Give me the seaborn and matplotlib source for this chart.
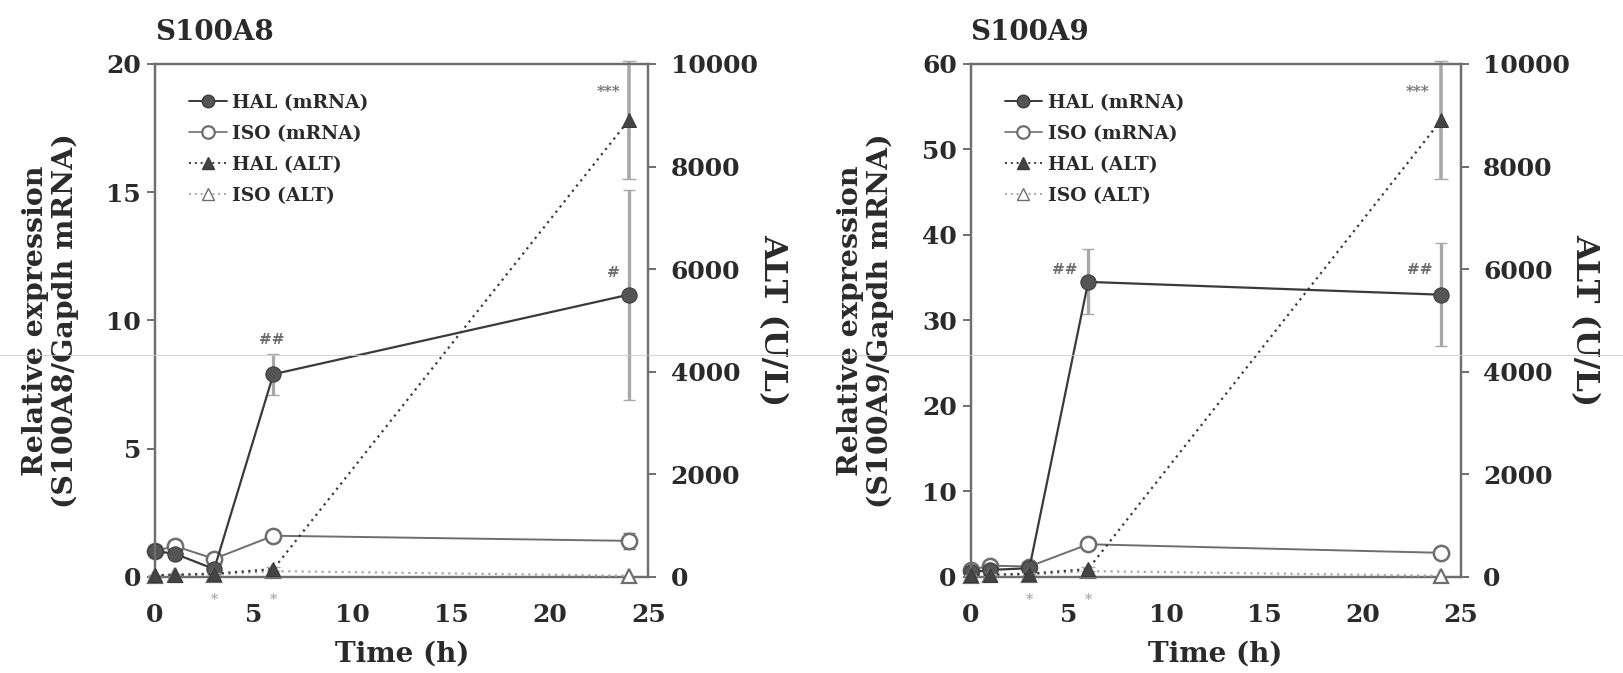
import matplotlib

matplotlib.use("Agg")

import matplotlib.pyplot as plt
import seaborn as sns
from matplotlib.lines import Line2D

# sampling times (h)
TIME_H = [0, 1, 3, 6, 24]

# S100A8 relative expression (mean, error)
A8_HAL_MRNA = [1.0, 0.9, 0.3, 7.9, 11.0]
A8_HAL_MRNA_ERR = [0.1, 0.2, 0.1, 0.8, 4.1]
A8_ISO_MRNA = [1.0, 1.2, 0.7, 1.6, 1.4]
A8_ISO_MRNA_ERR = [0.1, 0.2, 0.1, 0.2, 0.3]

# S100A9 relative expression (mean, error)
A9_HAL_MRNA = [0.5, 0.8, 1.0, 34.5, 33.0]
A9_HAL_MRNA_ERR = [0.3, 0.3, 0.3, 3.8, 6.0]
A9_ISO_MRNA = [0.8, 1.3, 1.2, 3.8, 2.8]
A9_ISO_MRNA_ERR = [0.2, 0.2, 0.2, 0.3, 0.3]

# serum ALT (U/L), same animals in both panels
HAL_ALT = [30, 40, 60, 150, 8900]
HAL_ALT_ERR = [10, 10, 20, 40, 1150]
ISO_ALT = [20, 30, 40, 110, 20]
ISO_ALT_ERR = [5, 5, 10, 30, 5]

X_TICKS = [0, 5, 10, 15, 20, 25]
ALT_TICKS = [0, 2000, 4000, 6000, 8000, 10000]

FONT = "DejaVu Serif"
INK = "#2a2a2a"
DARK = "#3a3a3a"
MID = "#6e6e6e"
LIGHT = "#a8a8a8"


def draw_panel(ax, title, gene, hal, hal_err, iso, iso_err, ymax, ystep, marks):
    ax2 = ax.twinx()

    ax.errorbar(TIME_H, hal, yerr=hal_err, fmt="none", ecolor=LIGHT, elinewidth=2.4,
                capsize=4, clip_on=False, zorder=2)
    ax.errorbar(TIME_H, iso, yerr=iso_err, fmt="none", ecolor=MID, elinewidth=1.2,
                capsize=4, clip_on=False, zorder=2)
    ax2.errorbar(TIME_H, HAL_ALT, yerr=HAL_ALT_ERR, fmt="none", ecolor=LIGHT,
                 elinewidth=2.6, capsize=5, clip_on=False, zorder=2)

    sns.lineplot(x=TIME_H, y=hal, ax=ax, color=DARK, linewidth=1.6, marker="o",
                 markersize=11, markerfacecolor="#555555", markeredgecolor=DARK,
                 clip_on=False, zorder=4)
    sns.lineplot(x=TIME_H, y=iso, ax=ax, color=MID, linewidth=1.4, marker="o",
                 markersize=11, markerfacecolor="white", markeredgecolor=MID,
                 markeredgewidth=1.8, clip_on=False, zorder=3)
    sns.lineplot(x=TIME_H, y=HAL_ALT, ax=ax2, color=DARK, linewidth=1.6,
                 linestyle=(0, (1, 2)), marker="^", markersize=10,
                 markerfacecolor="#444444", markeredgecolor=DARK,
                 clip_on=False, zorder=4)
    sns.lineplot(x=TIME_H, y=ISO_ALT, ax=ax2, color=LIGHT, linewidth=1.6,
                 linestyle=(0, (1, 2)), marker="^", markersize=10,
                 markerfacecolor="white", markeredgecolor=MID,
                 markeredgewidth=1.6, clip_on=False, zorder=3)

    ax.set_xlim(0, 25)
    ax.set_ylim(0, ymax)
    ax2.set_ylim(0, 10000)
    ax.set_xticks(X_TICKS)
    ax.set_yticks(range(0, ymax + 1, ystep))
    ax2.set_yticks(ALT_TICKS)

    bold = dict(family=FONT, weight="bold")
    for a in (ax, ax2):
        for side in a.spines.values():
            side.set_color(MID)
            side.set_linewidth(1.6)
        a.grid(False)
    ax.tick_params(axis="y", direction="out", length=6, width=1.4, color=MID,
                   labelsize=18, pad=4)
    ax.tick_params(axis="x", direction="in", length=6, width=1.2, color=MID,
                   labelsize=18, pad=19)
    ax2.tick_params(axis="y", direction="out", length=6, width=1.4, color=MID,
                    labelsize=18, pad=10)
    for lab in ax.get_xticklabels() + ax.get_yticklabels() + ax2.get_yticklabels():
        lab.set_fontfamily(FONT)
        lab.set_fontweight("bold")
        lab.set_color(INK)

    ax.set_xlabel("Time (h)", fontsize=20, labelpad=10, color=INK, **bold)
    ax.set_ylabel(f"Relative expression\n({gene}/Gapdh mRNA)", fontsize=20.5,
                  labelpad=20, linespacing=1.12, color=INK, **bold)
    ax2.set_ylabel("ALT (U/L)", rotation=270, fontsize=23, labelpad=22,
                   color=INK, **bold)
    ax.set_title(title, loc="left", fontsize=20, pad=17, color=INK, **bold)

    # significance marks: (point index, text, series, shift in h, lift in y-units)
    for idx, text, kind, dx, dy in marks:
        if kind == "hal":
            ax.text(TIME_H[idx] + dx, hal[idx] + dy, text, ha="center",
                    va="center", fontsize=11, color=MID, **bold)
        elif kind == "alt":
            ax.text(TIME_H[idx] + dx, HAL_ALT[idx] / 10000 * ymax + dy, text,
                    ha="center", va="center", fontsize=11, color=MID, **bold)
        elif kind == "below":
            ax.text(TIME_H[idx] + dx, dy, text, ha="center", va="center",
                    fontsize=10, color=LIGHT, clip_on=False, **bold)

    handles = [
        Line2D([], [], color=DARK, linewidth=1.4, marker="o", markersize=9,
               markerfacecolor="#555555", markeredgecolor=DARK),
        Line2D([], [], color=MID, linewidth=1.2, marker="o", markersize=9,
               markerfacecolor="white", markeredgecolor=MID, markeredgewidth=1.6),
        Line2D([], [], color=DARK, linewidth=1.4, linestyle=(0, (1, 2)), marker="^",
               markersize=8, markerfacecolor="#444444", markeredgecolor=DARK),
        Line2D([], [], color=LIGHT, linewidth=1.4, linestyle=(0, (1, 2)), marker="^",
               markersize=8, markerfacecolor="white", markeredgecolor=MID),
    ]
    labels = ["HAL (mRNA)", "ISO (mRNA)", "HAL (ALT)", "ISO (ALT)"]
    ax2.legend(handles, labels, loc="upper left", bbox_to_anchor=(0.035, 0.975),
               frameon=False, handlelength=2.0, handletextpad=0.3, labelspacing=0.7,
               prop=dict(family=FONT, weight="bold", size=13.5),
               labelcolor=INK)


sns.set_theme(style="white")
plt.rcParams["font.family"] = [FONT, "DejaVu Sans"]

fig = plt.figure(figsize=(16.23, 6.73), dpi=100)
ax_a8 = fig.add_axes([0.0955, 0.143, 0.304, 0.762])
ax_a9 = fig.add_axes([0.598, 0.143, 0.302, 0.762])

draw_panel(ax_a8, "S100A8", "S100A8", A8_HAL_MRNA, A8_HAL_MRNA_ERR,
           A8_ISO_MRNA, A8_ISO_MRNA_ERR, 20, 5,
           [(3, "##", "hal", -0.1, 1.35), (4, "#", "hal", -0.75, 0.85),
            (4, "***", "alt", -1.0, 1.1),
            (2, "*", "below", 0.0, -0.9), (3, "*", "below", 0.0, -0.9)])
draw_panel(ax_a9, "S100A9", "S100A9", A9_HAL_MRNA, A9_HAL_MRNA_ERR,
           A9_ISO_MRNA, A9_ISO_MRNA_ERR, 60, 10,
           [(3, "##", "hal", -1.2, 1.4), (4, "##", "hal", -1.1, 2.9),
            (4, "***", "alt", -1.2, 3.3),
            (2, "*", "below", 0.0, -2.7), (3, "*", "below", 0.0, -2.7)])

# faint scan line running across the page
fig.add_artist(Line2D([0, 1], [0.472, 0.472], color="#cccccc", linewidth=0.6,
                      transform=fig.transFigure))

fig.savefig("out.png", dpi=100)
plt.close(fig)
